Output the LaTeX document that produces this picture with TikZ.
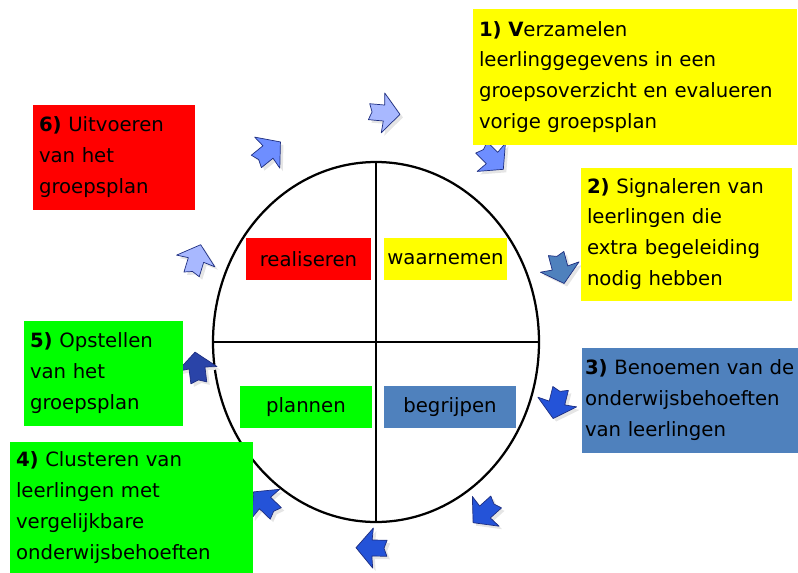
\documentclass[tikz,border=0pt]{standalone}
\usepackage{fontspec}
\setmainfont{DejaVu Sans}
\usetikzlibrary{shapes.geometric}
\newcommand\pxl{0.025cm}
\definecolor{phasered}{HTML}{FF0000}
\definecolor{phaseyellow}{HTML}{FFFF00}
\definecolor{phasegreen}{HTML}{00FF00}
\definecolor{phaseblue}{HTML}{4F81BD}
\definecolor{arrowlight}{HTML}{A8B8FF}
\definecolor{arrowmid}{HTML}{6E8EFF}
\definecolor{arrowdark}{HTML}{2453D8}
\definecolor{arrowdeep}{HTML}{2A44A8}
\definecolor{arrowedge}{HTML}{1E2E80}
% block arrow: x, y, direction (screen degrees, y down), fill colour
\newcommand\flowarrow[4]{%
  \fill[black!10, shift={(#1+3,#2+3)}, rotate=-#3] (-15,-8) -- (0,-8) -- (-1,-20) -- (16,0) -- (-1,20) -- (0,8) -- (-15,8) -- (-12,0) -- cycle;
  \draw[arrowline, fill=#4, shift={(#1,#2)}, rotate=-#3] (-15,-8) -- (0,-8) -- (-1,-20) -- (16,0) -- (-1,20) -- (0,8) -- (-15,8) -- (-12,0) -- cycle;}
\tikzset{
  infobox/.style={inner xsep=6*\pxl, inner ysep=0pt, align=left, anchor=center,
    font=\fontsize{14}{22}\selectfont},
  phasebox/.style={minimum height=42*\pxl, inner sep=0pt, font=\fontsize{14}{17}\selectfont},
  arrowline/.style={draw=arrowedge, line width=0.5pt, line join=round}
}
\begin{document}
\begin{tikzpicture}[x=0.025cm, y=-0.025cm]
  \useasboundingbox (0,0) rectangle (798,573);

  %%%%% WHEEL %%%%%
  \node[draw, ellipse, line width=1.6pt, inner sep=0pt,
    minimum width=326*\pxl, minimum height=360*\pxl] (wheel) at (376,342) {};
  \draw[line width=1.4pt] (wheel.north) -- (wheel.south);
  \draw[line width=1.4pt] (wheel.west) -- (wheel.east);

  \node[phasebox, fill=phasered, minimum width=125*\pxl] (realiseren) at (308.5,259) {realiseren};
  \node[phasebox, fill=phaseyellow, minimum width=123*\pxl] (waarnemen) at (445.5,259) {waarnemen};
  \node[phasebox, fill=phasegreen, minimum width=132*\pxl] (plannen) at (306,407) {plannen};
  \node[phasebox, fill=phaseblue, minimum width=132*\pxl] (begrijpen) at (450,407) {begrijpen};

  %%%%% ARROWS %%%%%
  \flowarrow{384}{113}{5}{arrowlight}
  \flowarrow{492}{158}{45}{arrowmid}
  \flowarrow{560}{268}{75}{phaseblue}
  \flowarrow{557}{403}{104}{arrowdark}
  \flowarrow{485}{512}{138}{arrowdark}
  \flowarrow{372}{548}{181}{arrowdark}
  \flowarrow{265}{503}{224}{arrowdark}
  \flowarrow{197}{368}{263}{arrowdeep}
  \flowarrow{196}{260}{287}{arrowlight}
  \flowarrow{268}{152}{321}{arrowmid}

  %%%%% STEPS %%%%%
  \node[infobox, fill=phaseyellow, text width=312*\pxl, minimum height=136*\pxl] (verzamelen) at (635,77)
    {\textbf{1) V}erzamelen\\leerlinggegevens in een\\groepsoverzicht en evalueren\\vorige groepsplan};
  \node[infobox, fill=phaseyellow, text width=199*\pxl, minimum height=133*\pxl] (signaleren) at (686.5,234)
    {\textbf{2)} Signaleren van\\leerlingen die\\extra begeleiding\\nodig hebben};
  \node[infobox, fill=phaseblue, inner xsep=3*\pxl, text width=210*\pxl, minimum height=105*\pxl] (benoemen) at (690,400)
    {\textbf{3)} Benoemen van de\\onderwijsbehoeften\\van leerlingen};
  \node[infobox, fill=phasegreen, text width=231*\pxl, minimum height=132*\pxl] (clusteren) at (131.5,507.5)
    {\textbf{4)} Clusteren van\\leerlingen met\\vergelijkbare\\onderwijsbehoeften};
  \node[infobox, fill=phasegreen, text width=147*\pxl, minimum height=105*\pxl] (opstellen) at (103.5,373)
    {\textbf{5)} Opstellen\\van het\\groepsplan};
  \node[infobox, fill=phasered, text width=150*\pxl, minimum height=105*\pxl] (uitvoeren) at (114,157)
    {\textbf{6)} Uitvoeren\\van het\\groepsplan};
\end{tikzpicture}
\end{document}
